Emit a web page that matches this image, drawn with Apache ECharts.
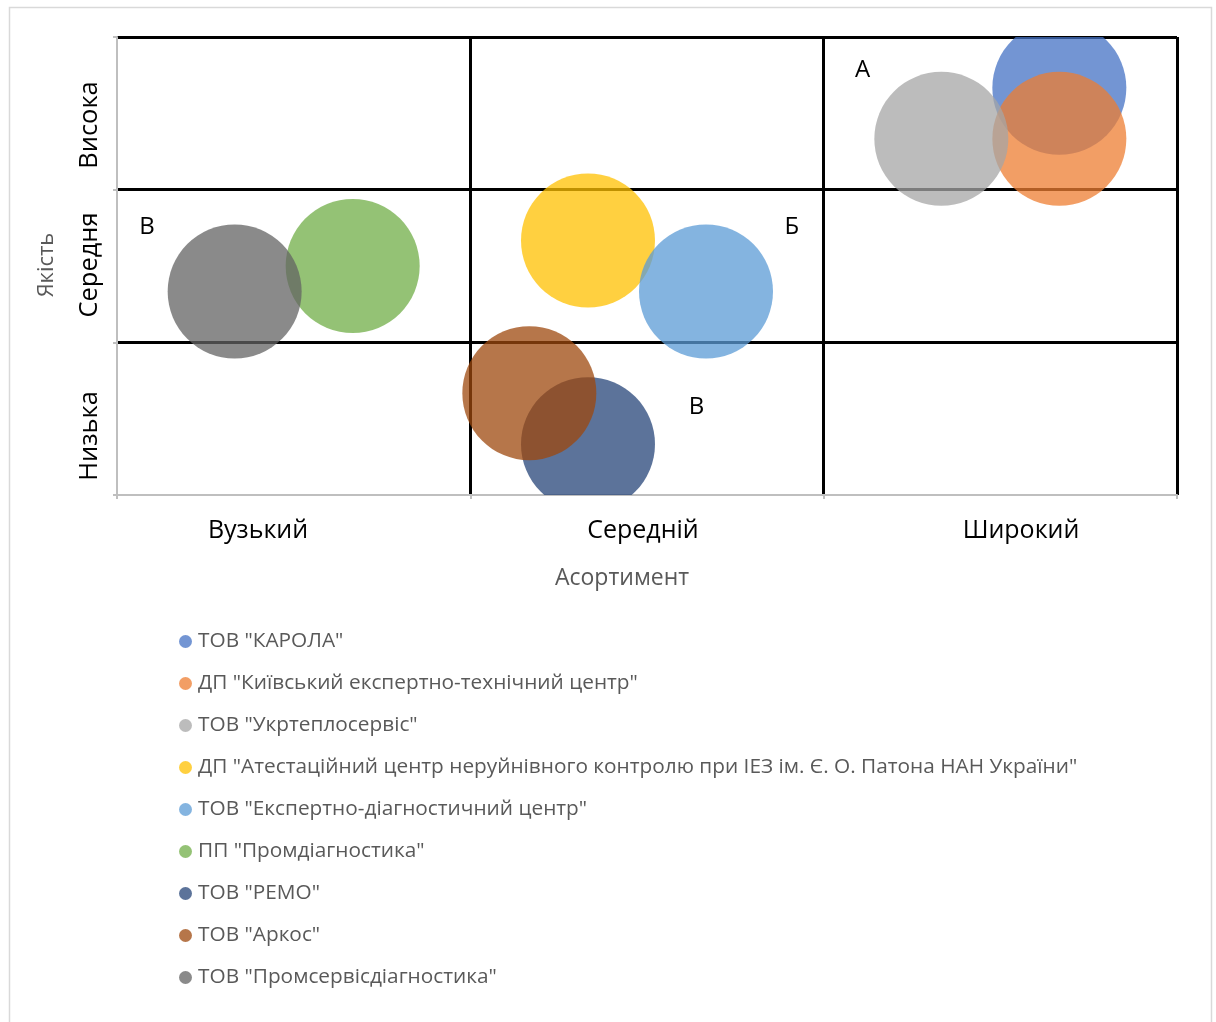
<!DOCTYPE html>
<html><head><meta charset="utf-8">
<script src="https://cdn.jsdelivr.net/npm/echarts@6/dist/echarts.min.js"></script>
<style>html,body{margin:0;padding:0;background:#fff}#c{width:1216px;height:1022px}</style>
</head><body><div id="c"></div>
<script>
const seriesNames = [
  'ТОВ "КАРОЛА"',
  'ДП "Київський експертно-технічний центр"',
  'ТОВ "Укртеплосервіс"',
  'ДП "Атестаційний центр неруйнівного контролю при ІЕЗ ім. Є. О. Патона НАН України"',
  'ТОВ "Експертно-діагностичний центр"',
  'ПП "Промдіагностика"',
  'ТОВ "РЕМО"',
  'ТОВ "Аркос"',
  'ТОВ "Промсервісдіагностика"'
];
const xValues = [2.667, 2.667, 2.333, 1.333, 1.667, 0.667, 1.333, 1.167, 0.333];
const yValues = [2.667, 2.333, 2.333, 1.667, 1.333, 1.5, 0.333, 0.667, 1.333];
const bubbleSizes = [1, 1, 1, 1, 1, 1, 1, 1, 1];
const colors = ['#4472C4', '#ED7D31', '#A5A5A5', '#FFC000', '#5B9BD5', '#70AD47', '#264478', '#9E480E', '#636363'];
const groupLabels = ['А', 'Б', 'В', 'В'];
const groupX = [2.11, 1.91, 0.085, 1.64];
const groupY = [2.78, 1.755, 1.755, 0.576];
const xCategoryLabels = ['Вузький', 'Середній', 'Широкий'];
const yCategoryLabels = ['Низька', 'Середня', 'Висока'];
const xTitle = 'Асортимент';
const yTitle = 'Якість';

const font = '"Open Sans", "Noto Sans", sans-serif';
const chart = echarts.init(document.getElementById('c'));

const series = seriesNames.map((n, i) => ({
  name: n,
  type: 'custom',
  clip: true,
  data: [[xValues[i], yValues[i], bubbleSizes[i]]],
  itemStyle: { color: colors[i], opacity: 0.75 },
  renderItem: (params, api) => {
    const p = api.coord([api.value(0), api.value(1)]);
    return {
      type: 'circle',
      shape: { cx: p[0], cy: p[1], r: 67 * api.value(2) },
      style: { fill: colors[i], opacity: 0.75 }
    };
  },
  z: 3
}));
series.push({
  name: 'labels',
  type: 'custom',
  silent: true,
  data: groupLabels.map((t, i) => [groupX[i], groupY[i], i]),
  renderItem: (params, api) => {
    const p = api.coord([api.value(0), api.value(1)]);
    return {
      type: 'text',
      x: p[0], y: p[1],
      style: { text: groupLabels[api.value(2)], fill: '#000', fontSize: 24, fontFamily: font, align: 'center', verticalAlign: 'middle' }
    };
  },
  z: 5
});

function txt(t, x, y, size, color, rot) {
  return { type: 'text', x: x, y: y, rotation: rot || 0, style: { text: t, fontSize: size, fontFamily: font, fill: color, align: 'center', verticalAlign: 'middle' } };
}

chart.setOption({
  animation: false,
  graphic: [
    { type: 'rect', shape: { x: 9.5, y: 7.5, width: 1202, height: 1030 }, style: { fill: 'none', stroke: '#d9d9d9', lineWidth: 1.5 }, z: -1 },
    txt(xCategoryLabels[0], 258, 531, 25, '#000'),
    txt(xCategoryLabels[1], 643, 531, 25, '#000'),
    txt(xCategoryLabels[2], 1021, 531, 25, '#000'),
    txt(yCategoryLabels[0], 90, 436, 25.5, '#000', Math.PI / 2),
    txt(yCategoryLabels[1], 90, 265, 25.5, '#000', Math.PI / 2),
    txt(yCategoryLabels[2], 90, 125, 25.5, '#000', Math.PI / 2),
    txt(xTitle, 622, 578, 23, '#595959'),
    txt(yTitle, 47, 265, 22, '#595959', Math.PI / 2)
  ],
  grid: { left: 117, top: 37, right: 39, bottom: 527, containLabel: false },
  xAxis: {
    type: 'value', min: 0, max: 3, interval: 1,
    axisLabel: { show: false },
    axisLine: { show: true, onZero: false, lineStyle: { color: '#bfbfbf', width: 2 } },
    axisTick: { show: true, length: 4, lineStyle: { color: '#bfbfbf', width: 2 } },
    splitLine: { show: true, showMinLine: false, lineStyle: { color: '#000', width: 3 } }
  },
  yAxis: {
    type: 'value', min: 0, max: 3, interval: 1,
    axisLabel: { show: false },
    axisLine: { show: true, onZero: false, lineStyle: { color: '#bfbfbf', width: 2 } },
    axisTick: { show: true, length: 4, lineStyle: { color: '#bfbfbf', width: 2 } },
    splitLine: { show: true, showMinLine: false, lineStyle: { color: '#000', width: 3 } }
  },
  legend: {
    orient: 'vertical', left: 174, top: 626, itemGap: 21,
    data: seriesNames,
    icon: 'circle', itemWidth: 13, itemHeight: 13,
    textStyle: { fontSize: 20.8, fontFamily: font, color: '#595959', padding: [0, 0, 0, 1] },
    selectedMode: false
  },
  series: series
});
</script></body></html>
